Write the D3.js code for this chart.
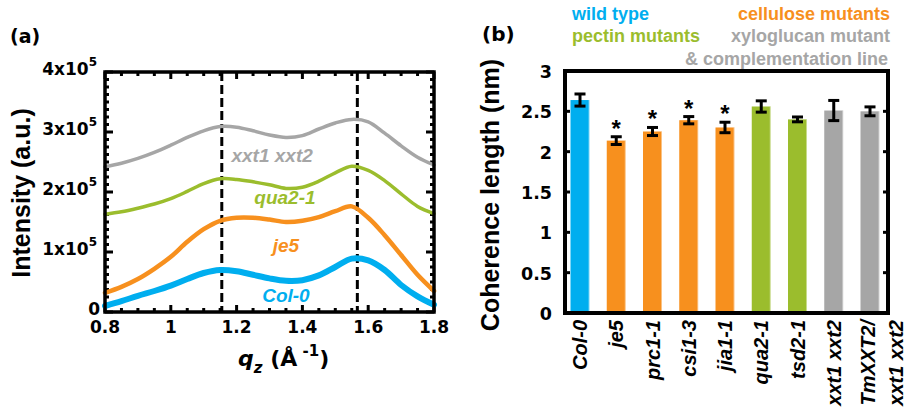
<!DOCTYPE html>
<html>
<head>
<style>
  body { margin: 0; background: #fff; }
  svg text { font-family: 'Liberation Sans', Arial, sans-serif; font-weight: bold; }
  svg text.wide { font-family: 'DejaVu Sans', sans-serif; }
</style>
</head>
<body>
<svg id="chart" width="904" height="408"></svg>
<script src="https://cdn.jsdelivr.net/npm/d3@7/dist/d3.min.js"></script>
<script>
// ---- panel (a) : intensity profiles (units of 1e5 a.u.)
const qz    = [0.80, 0.85, 0.90, 0.95, 1.00, 1.05, 1.10, 1.15, 1.20, 1.25, 1.30, 1.35, 1.40, 1.45, 1.50, 1.55, 1.60, 1.65, 1.70, 1.75, 1.80];
const col0  = [0.10, 0.18, 0.27, 0.35, 0.44, 0.55, 0.65, 0.70, 0.68, 0.62, 0.56, 0.52, 0.53, 0.61, 0.75, 0.89, 0.86, 0.70, 0.45, 0.26, 0.12];
const je5   = [0.32, 0.42, 0.55, 0.72, 0.92, 1.17, 1.38, 1.52, 1.57, 1.57, 1.54, 1.50, 1.52, 1.58, 1.68, 1.76, 1.57, 1.28, 0.95, 0.62, 0.35];
const qua21 = [1.63, 1.67, 1.73, 1.80, 1.89, 2.01, 2.14, 2.22, 2.21, 2.17, 2.12, 2.06, 2.08, 2.18, 2.32, 2.43, 2.36, 2.19, 1.97, 1.76, 1.64];
const xxt   = [2.42, 2.48, 2.56, 2.66, 2.78, 2.91, 3.02, 3.09, 3.08, 3.02, 2.95, 2.91, 2.94, 3.05, 3.15, 3.21, 3.17, 2.98, 2.77, 2.58, 2.45];
const peakLines = [1.155, 1.567];
const qTicks = [0.8, 1, 1.2, 1.4, 1.6, 1.8];
const iTicks = [0, 1, 2, 3, 4];

// ---- panel (b) : coherence length (nm)
const lines = ['Col-0', 'je5', 'prc1-1', 'csi1-3', 'jia1-1', 'qua2-1', 'tsd2-1', 'xxt1 xxt2', 'TmXXT2/|xxt1 xxt2'];
const coherence    = [2.64, 2.137, 2.25, 2.39, 2.30, 2.56, 2.40, 2.51, 2.50];
const coherenceErr = [0.075, 0.048, 0.05, 0.045, 0.065, 0.07, 0.03, 0.125, 0.055];
const groups = ['wt', 'cel', 'cel', 'cel', 'cel', 'pec', 'pec', 'xyl', 'xyl'];
const signif = [false, true, true, true, true, false, false, false, false];
const clTicks = [0, 0.5, 1, 1.5, 2, 2.5, 3];

const colors = { wt: '#00aeef', cel: '#f7901e', pec: '#9bbd2d', xyl: '#a6a6a6' };

const svg = d3.select('#chart');

/* ================= PANEL (a) ================= */
const xa = d3.scaleLinear().domain([0.8, 1.8]).range([105, 434]);
const ya = d3.scaleLinear().domain([0, 4]).range([312, 72]);
const ga = svg.append('g');

ga.append('text').attr('class', 'wide').attr('x', 10).attr('y', 43).style('font-size', '19px').text('(a)');

// minor / major ticks on all four sides
const qMinor = d3.range(0.8, 1.8001, 0.05);
const iMinor = d3.range(0, 4.0001, 0.125);
const tk = ga.append('g').attr('stroke', '#000').attr('stroke-width', 3);
qMinor.forEach(v => {
  const len = qTicks.some(t => Math.abs(t - v) < 1e-6) ? 7 : 4;
  tk.append('line').attr('x1', xa(v)).attr('x2', xa(v)).attr('y1', 312).attr('y2', 312 - len);
  tk.append('line').attr('x1', xa(v)).attr('x2', xa(v)).attr('y1', 72).attr('y2', 72 + len);
});
iMinor.forEach(v => {
  const len = iTicks.some(t => Math.abs(t - v) < 1e-6) ? 8 : 4;
  tk.append('line').attr('x1', 105).attr('x2', 105 + len).attr('y1', ya(v)).attr('y2', ya(v));
  tk.append('line').attr('x1', 434).attr('x2', 434 - len).attr('y1', ya(v)).attr('y2', ya(v));
});

// dashed peak positions
ga.selectAll('.peak').data(peakLines).enter().append('line')
  .attr('x1', d => xa(d)).attr('x2', d => xa(d)).attr('y1', 72).attr('y2', 312)
  .attr('stroke', '#000').attr('stroke-width', 3).attr('stroke-dasharray', '9,4');

// curves
const profiles = [
  { name: 'Col-0', vals: col0, c: colors.wt, w: 6, lx: 1.35, ly: 0.17 },
  { name: 'je5', vals: je5, c: colors.cel, w: 4.5, lx: 1.35, ly: 1.005 },
  { name: 'qua2-1', vals: qua21, c: colors.pec, w: 3.5, lx: 1.347, ly: 1.8 },
  { name: 'xxt1 xxt2', vals: xxt, c: colors.xyl, w: 3.5, lx: 1.308, ly: 2.505 }
];
const line = d3.line().x((d, i) => xa(qz[i])).y(d => ya(d)).curve(d3.curveCatmullRom.alpha(0.5));
profiles.forEach(p => {
  ga.append('path').datum(p.vals).attr('d', line)
    .attr('fill', 'none').attr('stroke', p.c).attr('stroke-width', p.w).attr('stroke-linecap', 'round');
  ga.append('text').attr('x', xa(p.lx)).attr('y', ya(p.ly)).attr('text-anchor', 'middle')
    .style('font-size', '19px').style('font-style', 'italic').attr('fill', p.c).text(p.name);
});

// frame
ga.append('rect').attr('x', 105).attr('y', 72).attr('width', 329).attr('height', 240)
  .attr('fill', 'none').attr('stroke', '#000').attr('stroke-width', 3.5);

// tick labels
ga.selectAll('.qt').data(qTicks).enter().append('text').attr('class', 'wide')
  .attr('x', d => xa(d)).attr('y', 333).attr('text-anchor', 'middle').style('font-size', '17px')
  .text(d => d3.format('')(d));
iTicks.forEach(v => {
  const t = ga.append('text').attr('class', 'wide').attr('x', v === 0 ? 100 : 97).attr('y', ya(v) + 3)
    .attr('text-anchor', 'end').style('font-size', '17px');
  if (v === 0) { t.text('0'); return; }
  t.append('tspan').text(v + 'x10');
  t.append('tspan').attr('dy', -9).style('font-size', '12px').text('5');
});

// axis titles
ga.append('text').attr('transform', 'translate(30,193) rotate(-90)').attr('text-anchor', 'middle')
  .style('font-size', '25px').text('Intensity (a.u.)');
const xt = ga.append('text').attr('class', 'wide').attr('x', 238).attr('y', 366).style('font-size', '22px');
xt.append('tspan').style('font-style', 'italic').text('q');
xt.append('tspan').attr('dy', 7).style('font-style', 'italic').style('font-size', '15px').text('z');
xt.append('tspan').attr('dy', -7).text(' (Å');
xt.append('tspan').attr('dy', -10).style('font-size', '15px').text(' -1');
xt.append('tspan').attr('dy', 10).text(')');

/* ================= PANEL (b) ================= */
const xb = d3.scalePoint().domain(lines).range([580, 870]);
const yb = d3.scaleLinear().domain([0, 3]).range([313, 71]);
const gb = svg.append('g');
const barW = 19;

gb.append('text').attr('class', 'wide').attr('x', 482).attr('y', 41).style('font-size', '20px').text('(b)');

// legend
const legend = [
  { t: 'wild type', c: colors.wt, x: 572, y: 20, a: 'start' },
  { t: 'cellulose mutants', c: colors.cel, x: 890, y: 20, a: 'end' },
  { t: 'pectin mutants', c: colors.pec, x: 572, y: 42, a: 'start' },
  { t: 'xyloglucan mutant', c: colors.xyl, x: 890, y: 42, a: 'end' },
  { t: '& complementation line', c: colors.xyl, x: 888, y: 65, a: 'end' }
];
gb.selectAll('.leg').data(legend).enter().append('text')
  .attr('x', d => d.x).attr('y', d => d.y).attr('text-anchor', d => d.a)
  .attr('fill', d => d.c).style('font-size', '18px').text(d => d.t);

// bars
const bars = gb.selectAll('.bar').data(lines).enter().append('g');
bars.append('rect')
  .attr('x', d => xb(d) - barW / 2).attr('width', barW)
  .attr('y', (d, i) => yb(coherence[i])).attr('height', (d, i) => yb(0) - yb(coherence[i]))
  .attr('fill', (d, i) => colors[groups[i]]);
bars.append('rect')
  .attr('x', d => xb(d) + barW / 2 - 1).attr('width', 2)
  .attr('y', (d, i) => yb(coherence[i])).attr('height', (d, i) => yb(0) - yb(coherence[i]))
  .attr('fill', '#fff').attr('opacity', 0.45);

// error bars
const eb = gb.append('g').attr('stroke', '#000').attr('stroke-width', 3);
lines.forEach((d, i) => {
  const x = xb(d), hi = yb(coherence[i] + coherenceErr[i]), lo = yb(coherence[i] - coherenceErr[i]);
  eb.append('line').attr('x1', x).attr('x2', x).attr('y1', hi).attr('y2', lo);
  eb.append('line').attr('x1', x - 5.5).attr('x2', x + 5.5).attr('y1', hi).attr('y2', hi);
  eb.append('line').attr('x1', x - 5.5).attr('x2', x + 5.5).attr('y1', lo).attr('y2', lo);
});
gb.selectAll('.star').data(lines.filter((d, i) => signif[i])).enter().append('text')
  .attr('x', d => xb(d)).attr('y', d => {
    const i = lines.indexOf(d);
    return yb(coherence[i] + coherenceErr[i]);
  })
  .attr('text-anchor', 'middle').style('font-size', '24px').text('*');

// ticks + frame
clTicks.forEach(v => {
  gb.append('line').attr('x1', 565).attr('x2', 570).attr('y1', yb(v)).attr('y2', yb(v)).attr('stroke', '#000').attr('stroke-width', 3);
  gb.append('line').attr('x1', 888).attr('x2', 883).attr('y1', yb(v)).attr('y2', yb(v)).attr('stroke', '#000').attr('stroke-width', 3);
});
gb.append('rect').attr('x', 565).attr('y', 71).attr('width', 323).attr('height', 242)
  .attr('fill', 'none').attr('stroke', '#000').attr('stroke-width', 4);

gb.selectAll('.ct').data(clTicks).enter().append('text').attr('class', 'wide')
  .attr('x', 552).attr('y', d => yb(d) + 7).attr('text-anchor', 'end').style('font-size', '17.5px')
  .text(d => d);

gb.append('text').attr('transform', 'translate(499,195) rotate(-90)').attr('text-anchor', 'middle')
  .style('font-size', '25px').text('Coherence length (nm)');

// category labels (rotated)
lines.forEach(d => {
  const parts = d.split('|');
  parts.forEach((p, k) => {
    const x = xb(d) + (parts.length > 1 ? (k === 0 ? -2 : 26) : 0) + 7;
    gb.append('text').attr('transform', `translate(${x},320) rotate(-90)`)
      .attr('text-anchor', 'end').style('font-size', '20px').style('font-style', 'italic').text(p);
  });
});
</script>
</body>
</html>
